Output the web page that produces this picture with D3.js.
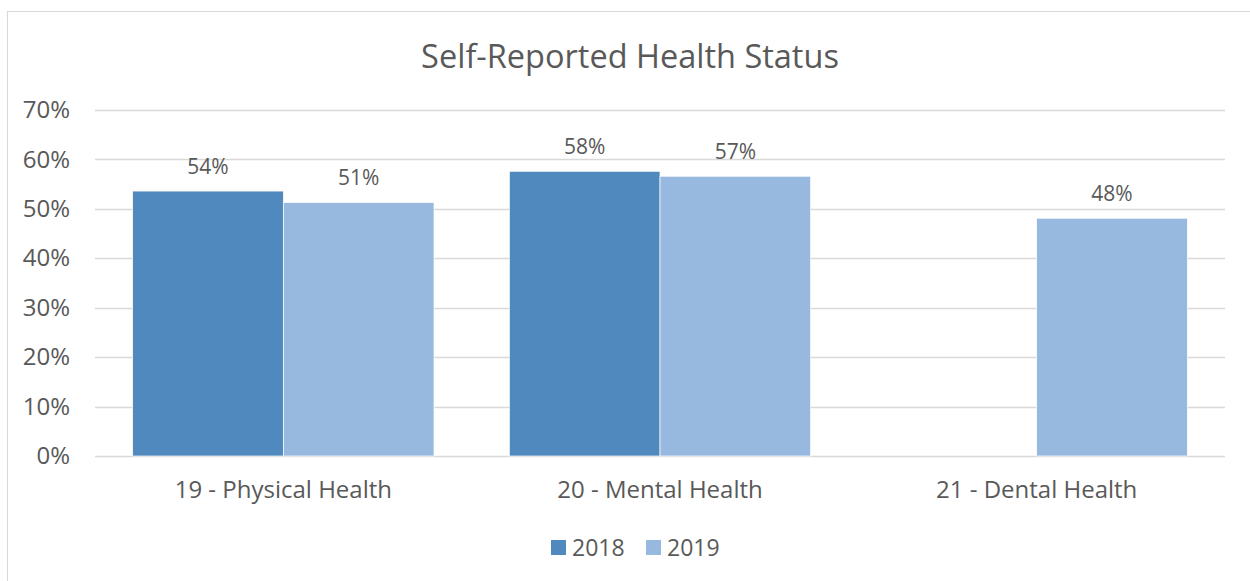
<!DOCTYPE html>
<html>
<head>
<meta charset="utf-8">
<script src="https://cdn.jsdelivr.net/npm/d3@7"></script>
<style>
	body { margin: 0; background: #fff; }
	text { font-family: 'Open Sans', Lato, sans-serif; fill: #595959; }
</style>
</head>
<body>
<script>
// data
var categories = ['19 - Physical Health', '20 - Mental Health', '21 - Dental Health'];
var years = ['2018', '2019'];
var values2018 = [0.536, 0.576, null];
var values2019 = [0.513, 0.566, 0.481];
var yTicks = [0, 0.1, 0.2, 0.3, 0.4, 0.5, 0.6, 0.7];
var colors = ['#4f89bd', '#98b9df'];

var W = 1250, H = 581;
var margin = { top: 110, right: 25, bottom: 125, left: 95 };
var width = W - margin.left - margin.right;
var height = H - margin.top - margin.bottom;

var svg = d3.select('body')
	.append('svg')
	.attr('width', W)
	.attr('height', H);

// chart border
svg.append('rect')
	.attr('x', 7.5)
	.attr('y', 11.5)
	.attr('width', W)
	.attr('height', H)
	.attr('fill', 'none')
	.attr('stroke', '#d9d9d9');

svg.append('text')
	.attr('x', 630)
	.attr('y', 68)
	.attr('text-anchor', 'middle')
	.style('font-size', '32.5px')
	.text('Self-Reported Health Status');

var g = svg.append('g')
	.attr('transform', 'translate(' + margin.left + ',' + margin.top + ')');

var x0 = d3.scaleBand().domain(categories).range([0, width]).paddingInner(0).paddingOuter(0);
var x1 = d3.scaleBand().domain(years).range([0.1 * x0.bandwidth(), 0.9 * x0.bandwidth()]);
var y = d3.scaleLinear().domain([0, 0.7]).range([height, 0]);

// gridlines
g.selectAll('.grid')
	.data(yTicks)
	.enter()
	.append('line')
	.attr('class', 'grid')
	.attr('x1', 0)
	.attr('x2', width)
	.attr('y1', function (d) { return Math.round(y(d)) + 0.5; })
	.attr('y2', function (d) { return Math.round(y(d)) + 0.5; })
	.attr('stroke', '#d9d9d9')
	.attr('stroke-width', 1.5);

var y_axis = d3.axisLeft(y)
	.tickValues(yTicks)
	.tickFormat(d3.format('.0%'))
	.tickSize(0)
	.tickPadding(25);

g.append('g')
	.attr('class', 'y axis')
	.call(y_axis)
	.call(function (a) { a.select('.domain').remove(); })
	.selectAll('text')
	.style('font-size', '24px');

var x_axis = d3.axisBottom(x0).tickSize(0).tickPadding(25);
g.append('g')
	.attr('class', 'x axis')
	.attr('transform', 'translate(0,' + height + ')')
	.call(x_axis)
	.call(function (a) { a.select('.domain').remove(); })
	.selectAll('text')
	.style('font-size', '24px');

// bars
var series = [values2018, values2019];
var rows = [];
categories.forEach(function (c, i) {
	years.forEach(function (yr, j) {
		if (series[j][i] != null) {
			rows.push({ cat: c, year: yr, value: series[j][i], color: colors[j] });
		}
	});
});

g.selectAll('.bar')
	.data(rows)
	.enter()
	.append('rect')
	.attr('class', 'bar')
	.attr('x', function (d) { return x0(d.cat) + x1(d.year); })
	.attr('y', function (d) { return y(d.value); })
	.attr('width', x1.bandwidth())
	.attr('height', function (d) { return height - y(d.value); })
	.attr('fill', function (d) { return d.color; })
	.attr('stroke', '#fff')
	.attr('stroke-width', 0.7);

g.selectAll('.label')
	.data(rows)
	.enter()
	.append('text')
	.attr('class', 'label')
	.attr('x', function (d) { return x0(d.cat) + x1(d.year) + x1.bandwidth() / 2; })
	.attr('y', function (d) { return y(d.value) - 17; })
	.attr('text-anchor', 'middle')
	.style('font-size', '21px')
	.text(function (d) { return d3.format('.0%')(d.value); });

// legend
var legend = svg.append('g').attr('transform', 'translate(551,547)');
var items = legend.selectAll('g')
	.data(years)
	.enter()
	.append('g')
	.attr('transform', function (d, i) { return 'translate(' + (i * 95) + ',0)'; });
items.append('rect')
	.attr('x', 0)
	.attr('y', -7)
	.attr('width', 15)
	.attr('height', 15)
	.attr('fill', function (d, i) { return colors[i]; });
items.append('text')
	.attr('x', 21)
	.attr('y', 1)
	.attr('dy', '0.35em')
	.style('font-size', '23px')
	.text(function (d) { return d; });
</script>
</body>
</html>
